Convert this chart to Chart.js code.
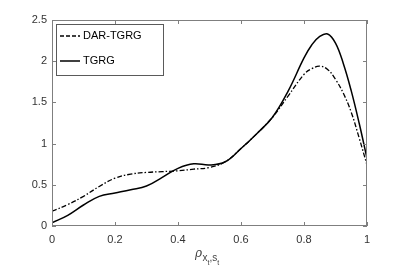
<!DOCTYPE html>
<html>
<head>
<meta charset="utf-8">
<script src="https://cdn.jsdelivr.net/npm/chart.js@4/dist/chart.umd.min.js"></script>
<style>
  html, body { margin: 0; padding: 0; background: #ffffff; }
  #wrap { width: 407px; height: 274px; }
</style>
</head>
<body>
<div id="wrap"><canvas id="plot" width="407" height="274"></canvas></div>
<script>
// sample positions (rho) and density values
const rhoVals  = [0, 0.05, 0.1, 0.15, 0.2, 0.25, 0.3, 0.35, 0.4, 0.45, 0.5, 0.55, 0.6, 0.65, 0.7, 0.75, 0.8, 0.825, 0.85, 0.875, 0.9, 0.925, 0.95, 0.975, 1.0];
const darTgrg  = [0.18, 0.26, 0.36, 0.48, 0.58, 0.63, 0.65, 0.66, 0.67, 0.69, 0.71, 0.78, 0.94, 1.12, 1.32, 1.58, 1.84, 1.91, 1.94, 1.90, 1.78, 1.61, 1.38, 1.07, 0.74];
const tgrg     = [0.04, 0.13, 0.255, 0.36, 0.40, 0.44, 0.485, 0.59, 0.70, 0.755, 0.74, 0.78, 0.94, 1.12, 1.32, 1.64, 2.04, 2.20, 2.30, 2.33, 2.22, 1.97, 1.64, 1.25, 0.82];
const xTicks   = [0, 0.2, 0.4, 0.6, 0.8, 1];
const yTicks   = [0, 0.5, 1, 1.5, 2, 2.5];
const seriesNames = ['DAR-TGRG', 'TGRG'];

const FONT = 'Liberation Sans, Arial, sans-serif';
const AXIS_GRAY = '#7f7f7f';

function toPoints(ys) {
    return rhoVals.map((x, i) => ({ x: x, y: ys[i] }));
}

// box, inward ticks, legend and axis title (MATLAB look)
const decorations = {
    id: 'decorations',
    afterDraw(chart) {
        const ctx = chart.ctx;
        const a = chart.chartArea;
        const sx = chart.scales.x, sy = chart.scales.y;
        const tl = 4;
        ctx.save();
        ctx.strokeStyle = AXIS_GRAY;
        ctx.lineWidth = 1;
        ctx.strokeRect(a.left + 0.5, a.top + 0.5, a.right - a.left - 1, a.bottom - a.top - 1);
        ctx.beginPath();
        xTicks.forEach(v => {
            const px = Math.round(sx.getPixelForValue(v)) + 0.5;
            ctx.moveTo(px, a.bottom); ctx.lineTo(px, a.bottom - tl);
            ctx.moveTo(px, a.top); ctx.lineTo(px, a.top + tl);
        });
        yTicks.forEach(v => {
            const py = Math.round(sy.getPixelForValue(v)) + 0.5;
            ctx.moveTo(a.left, py); ctx.lineTo(a.left + tl, py);
            ctx.moveTo(a.right, py); ctx.lineTo(a.right - tl, py);
        });
        ctx.stroke();

        // legend
        const lx = a.left + 4, ly = a.top + 4, lw = 107, lh = 51;
        ctx.fillStyle = '#ffffff';
        ctx.fillRect(lx, ly, lw, lh);
        ctx.strokeStyle = '#5a5a5a';
        ctx.strokeRect(lx + 0.5, ly + 0.5, lw, lh);
        const rows = [
            { y: ly + 12, dash: [4, 2], name: seriesNames[0] },
            { y: ly + 37, dash: [], name: seriesNames[1] }
        ];
        ctx.font = '11px ' + FONT;
        ctx.textBaseline = 'middle';
        rows.forEach(r => {
            ctx.strokeStyle = '#000000';
            ctx.lineWidth = 1.5;
            ctx.setLineDash(r.dash);
            ctx.beginPath();
            ctx.moveTo(lx + 4, r.y); ctx.lineTo(lx + 24, r.y);
            ctx.stroke();
            ctx.setLineDash([]);
            ctx.fillStyle = '#000000';
            ctx.fillText(r.name, lx + 27, r.y);
        });

        // x axis title: rho_{x_t, s_t}
        ctx.fillStyle = '#444444';
        ctx.textBaseline = 'alphabetic';
        let x = 195;
        ctx.font = 'italic 12px DejaVu Serif, serif';
        ctx.fillText('ρ', x, 257); x += ctx.measureText('ρ').width + 0.5;
        ctx.font = '10px ' + FONT;
        ctx.fillText('x', x, 261); x += ctx.measureText('x').width;
        ctx.font = '7px ' + FONT;
        ctx.fillText('t', x, 265); x += ctx.measureText('t').width;
        ctx.font = '10px ' + FONT;
        ctx.fillText(',', x, 261); x += ctx.measureText(',').width;
        ctx.fillText('s', x, 261); x += ctx.measureText('s').width;
        ctx.font = '7px ' + FONT;
        ctx.fillText('t', x, 265);
        ctx.restore();
    }
};

const ctx = document.getElementById('plot').getContext('2d');
new Chart(ctx, {
    type: 'line',
    data: {
        datasets: [
            {
                label: seriesNames[0],
                data: toPoints(darTgrg),
                borderColor: '#000000',
                borderWidth: 1.3,
                borderDash: [5, 2, 1.5, 2],
                pointRadius: 0,
                fill: false,
                tension: 0.4
            },
            {
                label: seriesNames[1],
                data: toPoints(tgrg),
                borderColor: '#000000',
                borderWidth: 1.5,
                pointRadius: 0,
                fill: false,
                tension: 0.4
            }
        ]
    },
    options: {
        responsive: false,
        animation: false,
        layout: { padding: { left: 0, right: 40, top: 20, bottom: 0 } },
        plugins: {
            legend: { display: false },
            tooltip: { enabled: false }
        },
        scales: {
            x: {
                type: 'linear',
                min: 0,
                max: 1,
                afterBuildTicks(scale) { scale.ticks = xTicks.map(v => ({ value: v })); },
                afterFit(scale) { scale.height = 48; },
                grid: { display: false, drawTicks: false },
                border: { display: false },
                ticks: {
                    padding: 7,
                    color: '#333333',
                    font: { family: FONT, size: 11 },
                    maxRotation: 0,
                    callback: v => String(v)
                }
            },
            y: {
                type: 'linear',
                min: 0,
                max: 2.5,
                afterBuildTicks(scale) { scale.ticks = yTicks.map(v => ({ value: v })); },
                afterFit(scale) { scale.width = 52; },
                grid: { display: false, drawTicks: false },
                border: { display: false },
                ticks: {
                    padding: 5,
                    color: '#333333',
                    font: { family: FONT, size: 11 },
                    callback: v => String(v)
                }
            }
        }
    },
    plugins: [decorations]
});
</script>
</body>
</html>
